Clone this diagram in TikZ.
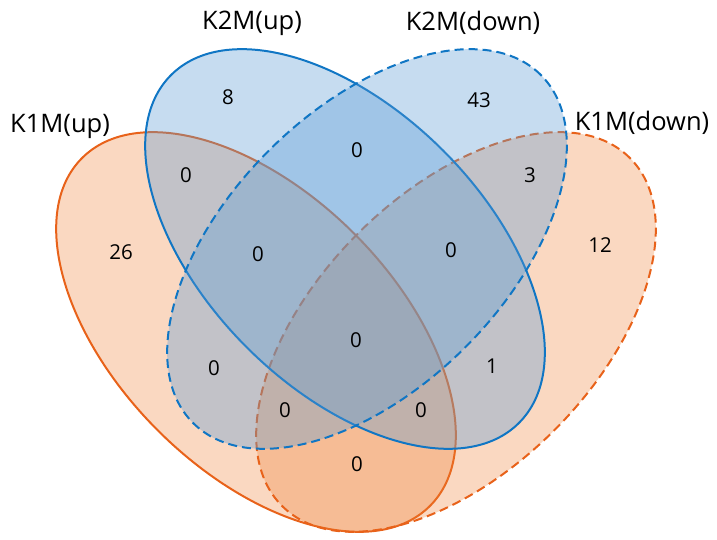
\documentclass[tikz,border=0pt]{standalone}
\usepackage{fontspec}
\setmainfont{Open Sans}
\definecolor{bstroke}{RGB}{16,118,196}
\definecolor{bfill}{RGB}{91,155,213}
\definecolor{ostroke}{RGB}{232,98,26}
\definecolor{ofill}{RGB}{237,125,49}
\tikzset{
  setline/.style={line width=2pt},
  bluefill/.style={fill=bfill, fill opacity=0.35},
  orangefill/.style={fill=ofill, fill opacity=0.3},
  dashline/.style={dash pattern=on 9pt off 5pt},
  setlabel/.style={font=\fontsize{25.5}{28}\selectfont, inner sep=0pt},
  count/.style={font=\fontsize{20.5}{23}\selectfont, inner sep=0pt},
}
\begin{document}
\begin{tikzpicture}[x=1pt,y=1pt]
\useasboundingbox (0,0) rectangle (717,540);
\coordinate (c1u) at (256,208);
\coordinate (c1d) at (456,208);
\coordinate (c2u) at (345,291);
\coordinate (c2d) at (367,291);
% orange sets
\fill[orangefill, rotate around={-45:(c1u)}] (c1u) ellipse [x radius=246, y radius=139];
\draw[setline, ostroke, rotate around={-45:(c1u)}] (c1u) ellipse [x radius=246, y radius=139];
\fill[orangefill, rotate around={45:(c1d)}] (c1d) ellipse [x radius=246, y radius=139];
\draw[setline, ostroke, dashline, rotate around={45:(c1d)}] (c1d) ellipse [x radius=246, y radius=139];
% blue sets
\fill[bluefill, rotate around={-45:(c2u)}] (c2u) ellipse [x radius=246, y radius=139];
\draw[setline, bstroke, rotate around={-45:(c2u)}] (c2u) ellipse [x radius=246, y radius=139];
\fill[bluefill, rotate around={45:(c2d)}] (c2d) ellipse [x radius=246, y radius=139];
\draw[setline, bstroke, dashline, rotate around={45:(c2d)}] (c2d) ellipse [x radius=246, y radius=139];
% set labels
\node[setlabel] (l2u) at (252,517) {K2M(up)};
\node[setlabel] (l2d) at (473,517) {K2M(down)};
\node[setlabel] (l1u) at (60,414) {K1M(up)};
\node[setlabel] (l1d) at (642,417) {K1M(down)};
% counts
\node[count] (n1) at (228,443) {8};
\node[count] (n2) at (479,440) {43};
\node[count] (n3) at (186,365) {0};
\node[count] (n4) at (357,390) {0};
\node[count] (n5) at (530,365) {3};
\node[count] (n6) at (121,288) {26};
\node[count] (n7) at (258,286) {0};
\node[count] (n8) at (451,290) {0};
\node[count] (n9) at (600,295) {12};
\node[count] (n10) at (356,200) {0};
\node[count] (n11) at (214,172) {0};
\node[count] (n12) at (492,174) {1};
\node[count] (n13) at (285,130) {0};
\node[count] (n14) at (421,130) {0};
\node[count] (n15) at (357,76) {0};
\end{tikzpicture}
\end{document}
